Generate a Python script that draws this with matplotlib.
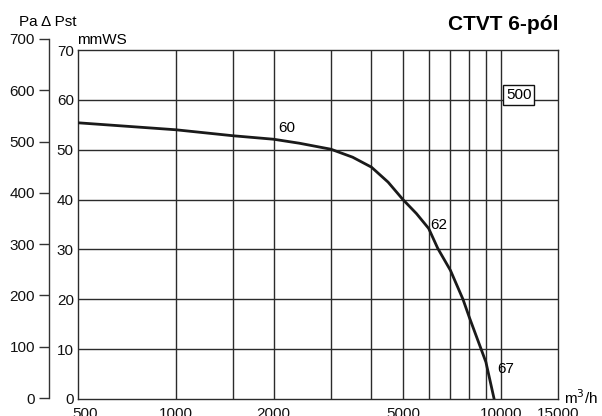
import matplotlib
matplotlib.use("Agg")
from matplotlib import pyplot as plt
from matplotlib.ticker import NullLocator
from matplotlib.transforms import ScaledTranslation

plt.rcParams['font.family'] = ['Liberation Sans', 'DejaVu Sans']

# fan curve, airflow m3/h vs static pressure mmWS
flow = [500, 1000, 1500, 2000, 2400, 3000, 3500, 4000, 4500, 5000, 5500,
        6000, 6400, 7000, 7650, 8000, 8700, 9000, 9540]
press = [55.4, 54.0, 52.8, 52.1, 51.3, 50.1, 48.5, 46.5, 43.5, 40.0, 37.2,
         34.2, 30.2, 25.8, 20.0, 16.4, 10.0, 7.4, 0.0]

x_ticks = [500, 1000, 2000, 5000, 10000, 15000]
x_grid = [1000, 1500, 2000, 3000, 4000, 5000, 6000, 7000, 8000, 9000, 10000]
mm_ticks = [0, 10, 20, 30, 40, 50, 60, 70]
pa_ticks = [0, 100, 200, 300, 400, 500, 600, 700]

W, H = 602, 416
fs = 11
fig = plt.figure(figsize=(W / 100, H / 100), dpi=100)
gc = '#2b2b2b'

ax = fig.add_axes([78 / W, (H - 399) / H, (558 - 78) / W, (399 - 50) / H])
ax.set_xscale('log')
ax.set_xlim(500, 15000)
ax.set_ylim(0, 70)
for v in x_grid:
    ax.axvline(v, color=gc, lw=1.0, zorder=1)
for v in mm_ticks[1:-1]:
    ax.axhline(v, color=gc, lw=1.0, zorder=1)
ax.plot(flow, press, color='#1a1a1a', lw=2.0, zorder=3, solid_joinstyle='round')
ax.xaxis.set_minor_locator(NullLocator())
ax.set_xticks(x_ticks)
ax.set_xticklabels([str(t) for t in x_ticks])
ax.set_yticks(mm_ticks)
ax.tick_params(axis='both', length=0, labelsize=fs, colors='#111111')
ax.tick_params(axis='x', pad=6)
ax.tick_params(axis='y', pad=3)
lab0 = ax.get_xticklabels()[0]
lab0.set_transform(lab0.get_transform() + ScaledTranslation(0.07, 0, fig.dpi_scale_trans))
for s in ax.spines.values():
    s.set_color(gc)
    s.set_linewidth(1.0)

ax.text(2060, 53.6, '60', fontsize=fs)
ax.text(6080, 34.0, '62', fontsize=fs)
ax.text(9750, 5.2, '67', fontsize=fs)
ax.text(11350, 61, '500', fontsize=fs, ha='center', va='center',
        bbox=dict(boxstyle='square,pad=0.2', fc='white', ec='#111111', lw=1.0))

# outer Pa axis
pa = fig.add_axes([49 / W, (H - 398) / H, 0.001, (398 - 39) / H])
pa.set_ylim(0, 700)
pa.set_yticks(pa_ticks)
pa.set_xticks([])
for k in ['top', 'right', 'bottom']:
    pa.spines[k].set_visible(False)
pa.spines['left'].set_color('#333333')
pa.spines['left'].set_linewidth(1.0)
pa.patch.set_visible(False)
pa.tick_params(axis='y', length=7, width=1.0, color='#333333', labelsize=fs,
               pad=3, labelcolor='#111111')

fig.text(19 / W, 1 - 26 / H, 'Pa \u0394 Pst', fontsize=fs)
fig.text(77 / W, 1 - 44 / H, 'mmWS', fontsize=fs)
fig.text(559 / W, 1 - 30 / H, 'CTVT 6-p\u00f3l', fontsize=15, fontweight='bold', ha='right')
fig.text(564 / W, 1 - 404 / H, 'm$^3$/h', fontsize=fs)

fig.savefig('out.png', dpi=100)
